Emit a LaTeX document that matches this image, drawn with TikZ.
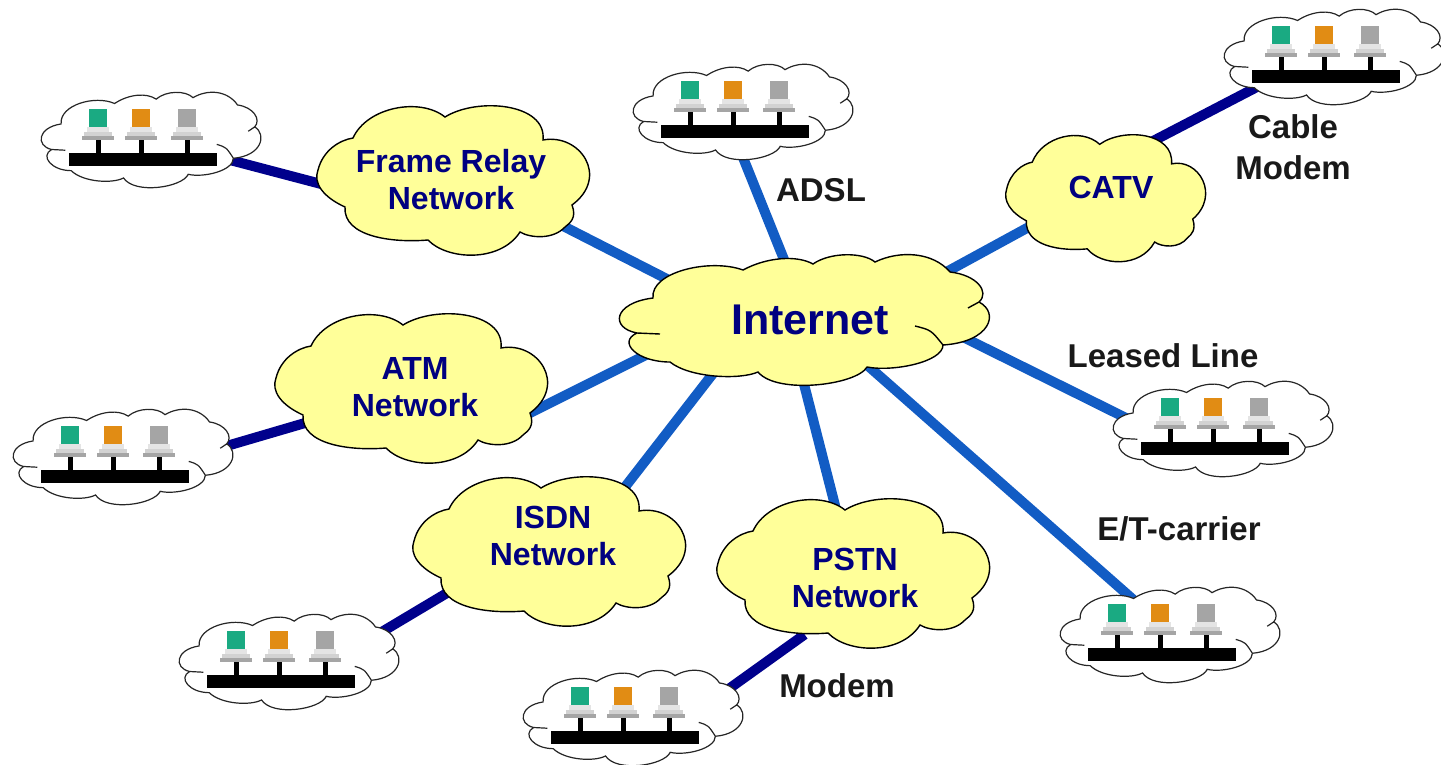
\documentclass[tikz,border=0pt]{standalone}
\usepackage{fontspec}
\setmainfont{Liberation Sans}
\definecolor{wanblue}{RGB}{18,92,196}
\definecolor{lannavy}{RGB}{0,0,140}
\definecolor{textnavy}{RGB}{0,0,128}
\definecolor{cloudyellow}{RGB}{255,255,153}
\definecolor{pcgreen}{RGB}{26,170,130}
\definecolor{pcorange}{RGB}{225,140,20}
\definecolor{pcgray}{RGB}{165,165,165}
\newcommand{\cloudoutline}{(-63,-50) .. controls (-39,-63) and (-9,-65) .. (7,-56)
  .. controls (24,-68) and (57,-68) .. (69,-58)
  .. controls (94,-70) and (127,-68) .. (144,-48)
  .. controls (171,-45) and (184,-28) .. (173,-18)
  .. controls (194,-7) and (184,22) .. (137,25)
  .. controls (137,42) and (87,52) .. (61,47)
  .. controls (51,65) and (-29,75) .. (-48,52)
  .. controls (-66,60) and (-116,58) .. (-136,42)
  .. controls (-169,42) and (-189,22) .. (-169,13)
  .. controls (-196,8) and (-193,-17) .. (-153,-22)
  .. controls (-156,-48) and (-96,-62) .. (-63,-50) -- cycle
  (173,-18) -- (162,-12)
  (109,6) .. controls (125,10) .. (137,25)
  (-169,13) -- (-146,14)}
\newcommand{\puffoutline}{(-10,-62) .. controls (22,-82) and (92,-76) .. (88,-39)
  .. controls (125,-46) and (155,-2) .. (117,26)
  .. controls (122,39) and (115,44) .. (110,48)
  .. controls (98,61) and (75,59) .. (65,53)
  .. controls (45,84) and (-8,81) .. (-27,61)
  .. controls (-62,64) and (-112,58) .. (-110,28)
  .. controls (-132,18) and (-142,4) .. (-137,-9)
  .. controls (-132,-29) and (-115,-39) .. (-102,-41)
  .. controls (-88,-72) and (-35,-82) .. (-10,-62) -- cycle}
\tikzset{
  wanline/.style={line width=10pt, wanblue, shorten <=-18pt, shorten >=-18pt},
  lanline/.style={line width=10pt, lannavy, shorten <=-18pt, shorten >=-18pt},
  netlabel/.style={font=\bfseries\fontsize{32}{37}\selectfont, textnavy, align=center, inner sep=0pt},
  linklabel/.style={font=\bfseries\fontsize{33}{41}\selectfont, black!90, align=center, inner sep=0pt},
  bigcloud/.pic={\draw[line width=1.4pt, fill=cloudyellow] \cloudoutline;},
  yellowcloud/.pic={\draw[line width=1.4pt, fill=cloudyellow] \puffoutline;},
  computer/.pic={
    \fill[black] (-2.5,0) rectangle (2.5,13);
    \fill[pcgray] (-16,-4) rectangle (16,0);
    \fill[pcgray!50] (-14,-8) rectangle (14,-4);
    \fill[pcgray!30] (-11,-13) rectangle (11,-8);
    \fill[pic actions] (-9,-31) rectangle (9,-13);
  },
  lan/.pic={
    \begin{scope}[xscale=0.594, yscale=0.73]
      \draw[line width=1.2pt, black!85, fill=white] \cloudoutline;
    \end{scope}
    \fill[black] (-83,13) rectangle (65,26);
    \pic[fill=pcgreen] at (-54,0) {computer};
    \pic[fill=pcorange] at (-11,0) {computer};
    \pic[fill=pcgray] at (35,0) {computer};
  }
}
\begin{document}
\begin{tikzpicture}[x=1pt, y=-1pt]

\useasboundingbox (0,0) rectangle (1441,764);

\coordinate (frameinA) at (230,160);
\coordinate (frameinB) at (325,185);
\coordinate (frameoutA) at (567,228);
\coordinate (frameoutB) at (665,278);
\coordinate (adslA) at (744,160);
\coordinate (adslB) at (785,262);
\coordinate (cableA) at (1255,88);
\coordinate (cableB) at (1155,140);
\coordinate (catvA) at (1027,228);
\coordinate (catvB) at (950,270);
\coordinate (leasedA) at (975,343);
\coordinate (leasedB) at (1122,416);
\coordinate (carrierA) at (875,372);
\coordinate (carrierB) at (1128,595);
\coordinate (pstnA) at (805,388);
\coordinate (pstnB) at (840,525);
\coordinate (modemA) at (790,645);
\coordinate (modemB) at (730,688);
\coordinate (isdnA) at (708,380);
\coordinate (isdnB) at (625,487);
\coordinate (isdnlanA) at (452,590);
\coordinate (isdnlanB) at (385,630);
\coordinate (atmA) at (640,358);
\coordinate (atmB) at (540,408);
\coordinate (atmlanA) at (305,423);
\coordinate (atmlanB) at (230,445);

% links
\draw[lanline] (frameinA) -- (frameinB);
\draw[wanline] (frameoutA) -- (frameoutB);
\draw[wanline] (adslA) -- (adslB);
\draw[lanline] (cableA) -- (cableB);
\draw[wanline] (catvA) -- (catvB);
\draw[wanline] (leasedA) -- (leasedB);
\draw[wanline] (carrierA) -- (carrierB);
\draw[wanline] (pstnA) -- (pstnB);
\draw[lanline] (modemA) -- (modemB);
\draw[wanline] (isdnA) -- (isdnB);
\draw[lanline] (isdnlanA) -- (isdnlanB);
\draw[wanline] (atmA) -- (atmB);
\draw[lanline] (atmlanA) -- (atmlanB);

% clouds
\pic at (806,320) {bigcloud};
\pic at (455,179) {yellowcloud};
\pic[xscale=0.733, yscale=0.85] at (1107,197) {yellowcloud};
\pic at (413,387) {yellowcloud};
\pic at (551,550) {yellowcloud};
\pic at (855,572) {yellowcloud};

\pic at (152,140) {lan};
\pic at (124,457) {lan};
\pic at (290,662) {lan};
\pic at (744,112) {lan};
\pic at (634,718) {lan};
\pic at (1171,635) {lan};
\pic at (1224,429) {lan};
\pic at (1335,57) {lan};

% labels
\node[netlabel, font=\bfseries\fontsize{43}{50}\selectfont] (internet) at (810,320) {Internet};
\node[netlabel] (framerelay) at (451,180) {Frame Relay\\Network};
\node[netlabel] (catv) at (1111,187) {CATV};
\node[netlabel] (atm) at (415,387) {ATM\\Network};
\node[netlabel] (isdn) at (553,536) {ISDN\\Network};
\node[netlabel] (pstn) at (855,578) {PSTN\\Network};

\node[linklabel] (adsl) at (821,190) {ADSL};
\node[linklabel] (cablemodem) at (1293,147) {Cable\\Modem};
\node[linklabel] (leased) at (1163,356) {Leased Line};
\node[linklabel] (carrier) at (1179,529) {E/T-carrier};
\node[linklabel] (modem) at (837,686) {Modem};

\end{tikzpicture}
\end{document}
